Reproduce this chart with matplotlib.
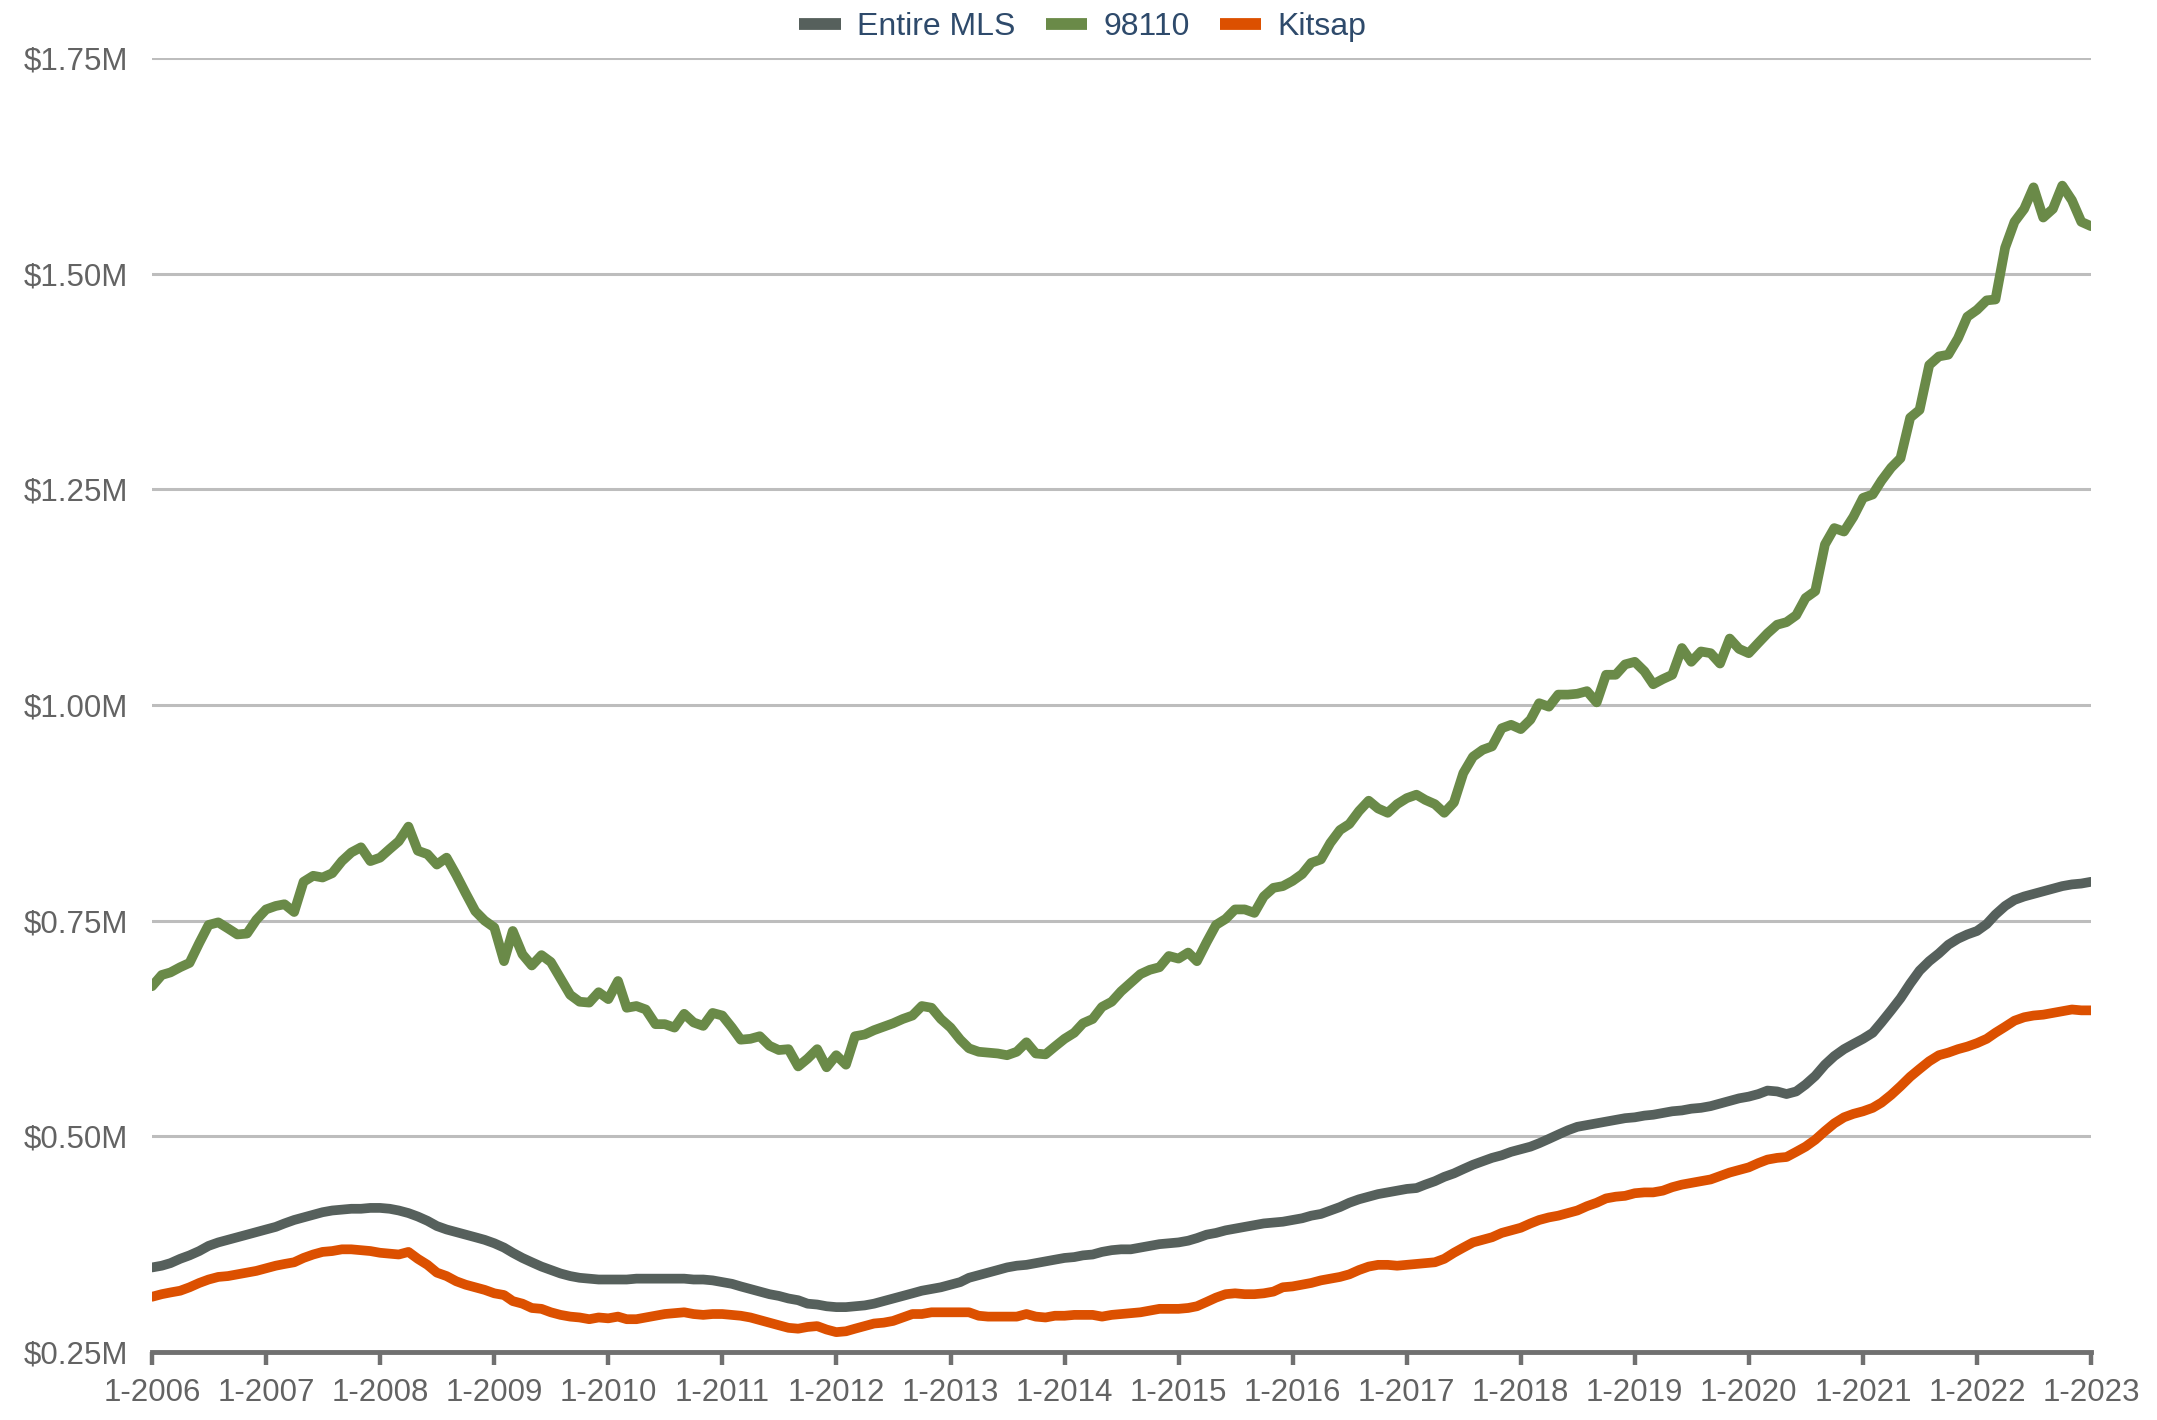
import matplotlib
matplotlib.use("Agg")
import matplotlib.pyplot as plt
from matplotlib.lines import Line2D
from matplotlib.ticker import FuncFormatter
import pandas as pd

# median price, $M, monthly from Jan 2006 to Jan 2023
entire_mls = [
    0.348, 0.350, 0.353, 0.358, 0.362, 0.367, 0.373, 0.377, 0.380, 0.383, 0.386, 0.389,
    0.392, 0.395, 0.399, 0.403, 0.406, 0.409, 0.412, 0.414, 0.415, 0.416, 0.416, 0.417,
    0.417, 0.416, 0.414, 0.411, 0.407, 0.402, 0.396, 0.392, 0.389, 0.386, 0.383, 0.380,
    0.376, 0.371, 0.365, 0.359, 0.354, 0.349, 0.345, 0.341, 0.338, 0.336, 0.335, 0.334,
    0.334, 0.334, 0.334, 0.335, 0.335, 0.335, 0.335, 0.335, 0.335, 0.334, 0.334, 0.333,
    0.331, 0.329, 0.326, 0.323, 0.320, 0.317, 0.315, 0.312, 0.310, 0.306, 0.305, 0.303,
    0.302, 0.302, 0.303, 0.304, 0.306, 0.309, 0.312, 0.315, 0.318, 0.321, 0.323, 0.325,
    0.328, 0.331, 0.336, 0.339, 0.342, 0.345, 0.348, 0.350, 0.351, 0.353, 0.355, 0.357,
    0.359, 0.360, 0.362, 0.363, 0.366, 0.368, 0.369, 0.369, 0.371, 0.373, 0.375, 0.376,
    0.377, 0.379, 0.382, 0.386, 0.388, 0.391, 0.393, 0.395, 0.397, 0.399, 0.400, 0.401,
    0.403, 0.405, 0.408, 0.410, 0.414, 0.418, 0.423, 0.427, 0.430, 0.433, 0.435, 0.437,
    0.439, 0.440, 0.444, 0.448, 0.453, 0.457, 0.462, 0.467, 0.471, 0.475, 0.478, 0.482,
    0.485, 0.488, 0.492, 0.497, 0.502, 0.507, 0.511, 0.513, 0.515, 0.517, 0.519, 0.521,
    0.522, 0.524, 0.525, 0.527, 0.529, 0.530, 0.532, 0.533, 0.535, 0.538, 0.541, 0.544,
    0.546, 0.549, 0.553, 0.552, 0.549, 0.552, 0.560, 0.570, 0.583, 0.593, 0.601, 0.607,
    0.613, 0.620, 0.632, 0.646, 0.660, 0.677, 0.692, 0.703, 0.712, 0.722, 0.729, 0.734,
    0.738, 0.746, 0.757, 0.767, 0.774, 0.778, 0.781, 0.784, 0.787, 0.790, 0.792, 0.793,
    0.795,
]

zip_98110 = [
    0.674, 0.687, 0.690, 0.696, 0.701, 0.724, 0.745, 0.748, 0.741, 0.734, 0.735, 0.751,
    0.763, 0.767, 0.769, 0.760, 0.795, 0.802, 0.800, 0.805, 0.819, 0.829, 0.835, 0.819,
    0.823, 0.833, 0.842, 0.859, 0.831, 0.827, 0.815, 0.823, 0.803, 0.782, 0.761, 0.750,
    0.742, 0.703, 0.738, 0.711, 0.698, 0.710, 0.702, 0.683, 0.664, 0.656, 0.655, 0.667,
    0.659, 0.680, 0.649, 0.651, 0.647, 0.630, 0.630, 0.626, 0.642, 0.632, 0.628, 0.643,
    0.640, 0.626, 0.612, 0.613, 0.616, 0.605, 0.600, 0.601, 0.581, 0.590, 0.601, 0.580,
    0.594, 0.583, 0.616, 0.618, 0.623, 0.627, 0.631, 0.636, 0.640, 0.651, 0.649, 0.636,
    0.626, 0.612, 0.602, 0.598, 0.597, 0.596, 0.594, 0.598, 0.609, 0.596, 0.595, 0.604,
    0.613, 0.620, 0.631, 0.636, 0.650, 0.656, 0.668, 0.678, 0.688, 0.693, 0.696, 0.709,
    0.706, 0.713, 0.703, 0.725, 0.745, 0.752, 0.763, 0.763, 0.759, 0.778, 0.788, 0.790,
    0.796, 0.804, 0.817, 0.821, 0.840, 0.855, 0.862, 0.877, 0.889, 0.880, 0.875, 0.885,
    0.892, 0.896, 0.890, 0.885, 0.875, 0.887, 0.921, 0.940, 0.948, 0.952, 0.973, 0.977,
    0.972, 0.983, 1.002, 0.998, 1.012, 1.012, 1.013, 1.016, 1.003, 1.035, 1.035, 1.047,
    1.050, 1.039, 1.024, 1.030, 1.035, 1.066, 1.050, 1.062, 1.060, 1.048, 1.077, 1.065,
    1.060, 1.072, 1.083, 1.093, 1.096, 1.104, 1.124, 1.132, 1.186, 1.205, 1.201, 1.218,
    1.240, 1.244, 1.260, 1.275, 1.286, 1.333, 1.342, 1.394, 1.404, 1.406, 1.425, 1.450,
    1.458, 1.469, 1.470, 1.530, 1.560, 1.575, 1.600, 1.565, 1.575, 1.602, 1.585, 1.560,
    1.555,
]

kitsap = [
    0.314, 0.317, 0.319, 0.321, 0.325, 0.330, 0.334, 0.337, 0.338, 0.340, 0.342, 0.344,
    0.347, 0.350, 0.352, 0.354, 0.359, 0.363, 0.366, 0.367, 0.369, 0.369, 0.368, 0.367,
    0.365, 0.364, 0.363, 0.366, 0.358, 0.351, 0.342, 0.338, 0.332, 0.328, 0.325, 0.322,
    0.318, 0.316, 0.309, 0.306, 0.301, 0.300, 0.296, 0.293, 0.291, 0.290, 0.288, 0.290,
    0.289, 0.291, 0.288, 0.288, 0.290, 0.292, 0.294, 0.295, 0.296, 0.294, 0.293, 0.294,
    0.294, 0.293, 0.292, 0.290, 0.287, 0.284, 0.281, 0.278, 0.277, 0.279, 0.280, 0.276,
    0.273, 0.274, 0.277, 0.280, 0.283, 0.284, 0.286, 0.290, 0.294, 0.294, 0.296, 0.296,
    0.296, 0.296, 0.296, 0.292, 0.291, 0.291, 0.291, 0.291, 0.294, 0.291, 0.290, 0.292,
    0.292, 0.293, 0.293, 0.293, 0.291, 0.293, 0.294, 0.295, 0.296, 0.298, 0.300, 0.300,
    0.300, 0.301, 0.303, 0.308, 0.313, 0.317, 0.318, 0.317, 0.317, 0.318, 0.320, 0.325,
    0.326, 0.328, 0.330, 0.333, 0.335, 0.337, 0.340, 0.345, 0.349, 0.351, 0.351, 0.350,
    0.351, 0.352, 0.353, 0.354, 0.358, 0.365, 0.371, 0.377, 0.380, 0.383, 0.388, 0.391,
    0.394, 0.399, 0.403, 0.406, 0.408, 0.411, 0.414, 0.419, 0.423, 0.428, 0.430, 0.431,
    0.434, 0.435, 0.435, 0.437, 0.441, 0.444, 0.446, 0.448, 0.450, 0.454, 0.458, 0.461,
    0.464, 0.469, 0.473, 0.475, 0.476, 0.482, 0.488, 0.496, 0.506, 0.515, 0.522, 0.526,
    0.529, 0.533, 0.539, 0.548, 0.558, 0.569, 0.578, 0.587, 0.594, 0.597, 0.601, 0.604,
    0.608, 0.613, 0.620, 0.627, 0.634, 0.638, 0.640, 0.641, 0.643, 0.645, 0.647, 0.646,
    0.646,
]

series_names = ["Entire MLS", "98110", "Kitsap"]
colors = ["#56605c", "#6a8a48", "#dc5000"]
y_ticks = [0.25, 0.50, 0.75, 1.00, 1.25, 1.50, 1.75]
x_tick_years = list(range(2006, 2024))

dates = pd.date_range("2006-01-01", periods=len(entire_mls), freq="MS")

plt.rcParams["font.family"] = ["Liberation Sans", "DejaVu Sans"]

fig = plt.figure(figsize=(21.57, 14.2), dpi=100)
ax = fig.add_axes([0.0705, 0.0479, 0.8989, 0.9113])

# draw back to front so orange sits on top like the original
for values, color in zip([entire_mls, zip_98110, kitsap], colors):
    ax.plot(dates, values, color=color, lw=7,
            solid_joinstyle="round", solid_capstyle="round", zorder=3)

ax.set_xlim(dates[0], dates[-1])
ax.set_ylim(y_ticks[0], y_ticks[-1])

ax.set_yticks(y_ticks)
ax.yaxis.set_major_formatter(FuncFormatter(lambda v, _: "${:.2f}M".format(v)))
ax.set_xticks([pd.Timestamp(year=y, month=1, day=1) for y in x_tick_years])
ax.set_xticklabels(["1-{}".format(y) for y in x_tick_years])

ax.grid(axis="y", color="#bdbdbd", lw=2.2, zorder=0)
ax.grid(axis="x", visible=False)
for side in ["top", "right", "left"]:
    ax.spines[side].set_visible(False)
ax.spines["bottom"].set_color("#707070")
ax.spines["bottom"].set_linewidth(3.5)
ax.spines["bottom"].set_zorder(4)

ax.tick_params(axis="x", direction="out", length=9, width=3.2, color="#707070",
               labelsize=22.5, labelcolor="#636363", pad=10)
ax.tick_params(axis="y", length=0, labelsize=22.5, labelcolor="#636363", pad=17)

handles = [Line2D([], [], color=c, lw=8.5, solid_capstyle="butt") for c in colors]
fig.legend(handles, series_names, loc="upper center", bbox_to_anchor=(0.502, 1.012),
           ncol=3, frameon=False, fontsize=23, handlelength=1.3, handletextpad=0.5,
           columnspacing=0.95, labelcolor="#2e4a6b")

fig.savefig("out.png", dpi=100)
